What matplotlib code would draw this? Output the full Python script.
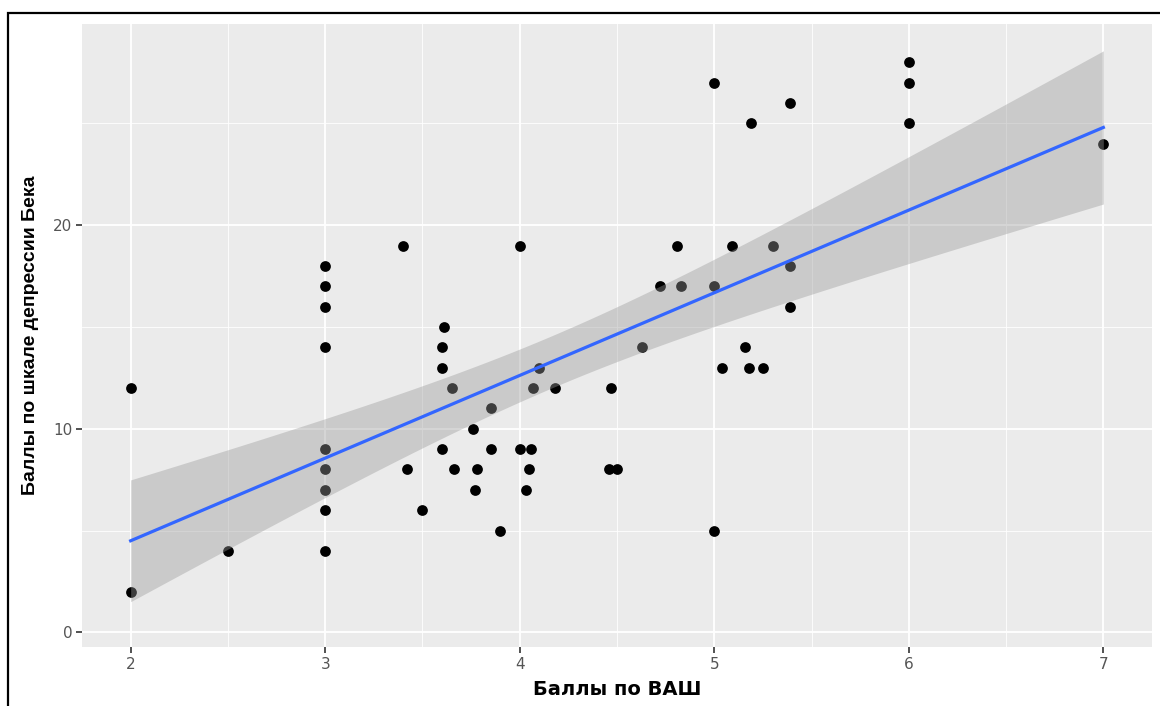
import numpy as np
import matplotlib
matplotlib.use("Agg")
import matplotlib.pyplot as plt
from matplotlib.patches import Rectangle

# VAS score vs Beck depression score
vas = [2, 2, 2.5,
       3, 3, 3, 3, 3, 3, 3, 3, 3,
       3.4, 3.42, 3.5, 3.6, 3.6, 3.6, 3.61, 3.65, 3.66, 3.76, 3.77, 3.78,
       3.85, 3.85, 3.9, 4.0, 4.0, 4.03, 4.05, 4.06, 4.07, 4.1, 4.18,
       4.46, 4.47, 4.5, 4.63, 4.72, 4.81, 4.83,
       5.0, 5.0, 5.0, 5.04, 5.09, 5.16, 5.18, 5.19, 5.25, 5.3,
       5.39, 5.39, 5.39, 6, 6, 6, 7]
beck = [12, 2, 4,
        18, 17, 16, 14, 9, 8, 7, 6, 4,
        19, 8, 6, 14, 13, 9, 15, 12, 8, 10, 7, 8,
        11, 9, 5, 19, 9, 7, 8, 9, 12, 13, 12,
        8, 12, 8, 14, 17, 19, 17,
        27, 17, 5, 13, 19, 14, 13, 25, 13, 19,
        26, 18, 16, 28, 27, 25, 24]

x = np.array(vas, dtype=float)
y = np.array(beck, dtype=float)

# linear fit with 95% confidence band (like geom_smooth(method="lm"))
n = len(x)
b1, b0 = np.polyfit(x, y, 1)
resid = y - (b0 + b1 * x)
s = np.sqrt(np.sum(resid ** 2) / (n - 2))
t_crit = 2.0025  # t(0.975, df=57)
xs = np.linspace(x.min(), x.max(), 80)
ys = b0 + b1 * xs
se = s * np.sqrt(1 / n + (xs - x.mean()) ** 2 / np.sum((x - x.mean()) ** 2))

fig = plt.figure(figsize=(11.6, 7.06), dpi=100)
ax = fig.add_axes([0.0707, 0.0836, 0.9224, 0.8824])
ax.set_facecolor("#ebebeb")

ax.scatter(x, y, s=60, color="black", linewidths=0, zorder=3)
ax.fill_between(xs, ys - t_crit * se, ys + t_crit * se, color="#999999",
                alpha=0.4, linewidth=0, zorder=4)
ax.plot(xs, ys, color="#3366ff", linewidth=2.3, zorder=5)

ax.set_xlim(1.75, 7.25)
ax.set_ylim(-0.72, 29.88)
ax.set_xticks([2, 3, 4, 5, 6, 7])
ax.set_yticks([0, 10, 20])
ax.set_xticks(np.arange(2.5, 7, 1.0), minor=True)
ax.set_yticks([5, 15, 25], minor=True)
ax.grid(which="major", color="white", linewidth=1.3, zorder=1)
ax.grid(which="minor", color="white", linewidth=0.6, zorder=1)
ax.set_axisbelow(True)
for sp in ax.spines.values():
    sp.set_visible(False)

ax.tick_params(which="major", length=4, width=1.2, color="#333333",
               labelcolor="#555555", labelsize=11, pad=3)
ax.tick_params(which="minor", length=0)
for lab in ax.get_xticklabels() + ax.get_yticklabels():
    lab.set_family(["Liberation Sans Narrow", "DejaVu Sans"])

ax.set_xlabel("Баллы по ВАШ", fontsize=14, fontweight="bold",
              family=["DejaVu Sans"], labelpad=6)
ax.set_ylabel("Баллы по шкале депрессии Бека", fontsize=14, fontweight="bold",
              family=["Liberation Sans", "DejaVu Sans"], labelpad=10)

# black frame around the picture (left and top edges visible)
fig.patches.append(Rectangle((8 / 1160, -0.1), 1.2, 1.1 - 13 / 706,
                             transform=fig.transFigure, fill=False,
                             edgecolor="black", linewidth=1.6))

fig.savefig("out.png", dpi=100)
